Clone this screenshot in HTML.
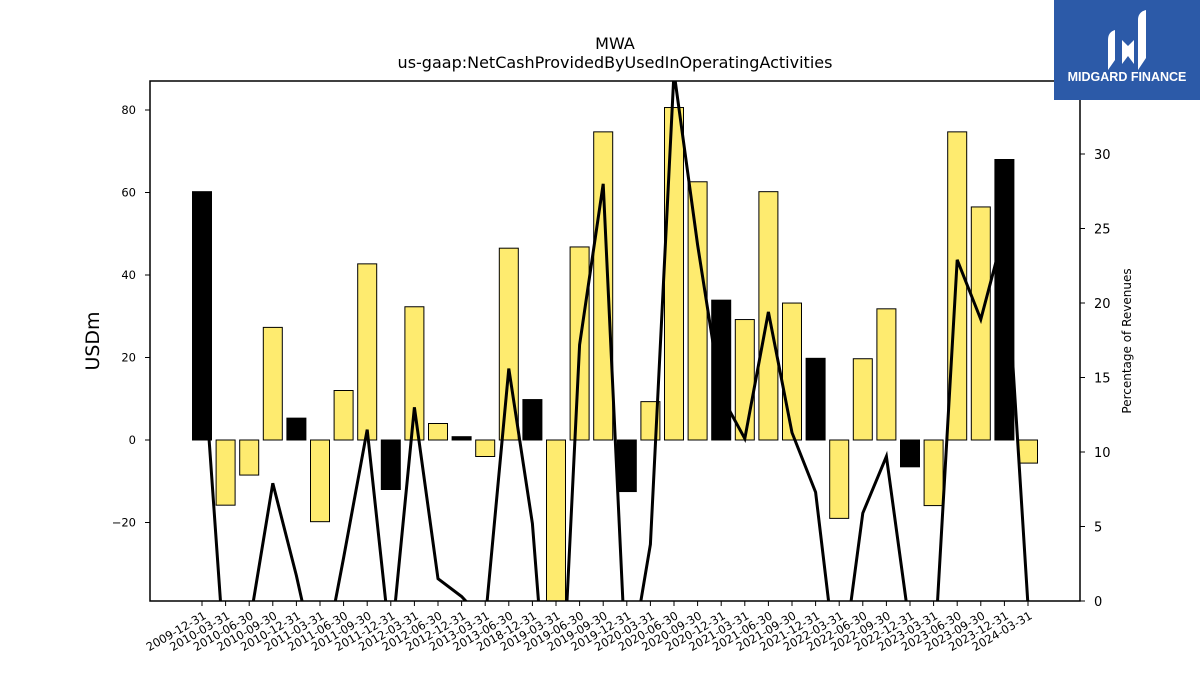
<!DOCTYPE html>
<html><head><meta charset="utf-8"><style>
html,body{margin:0;padding:0;background:#fff;overflow:hidden;width:1200px;height:675px;}
svg{display:block;font-family:"DejaVu Sans","Liberation Sans",sans-serif;}
</style></head><body>
<svg id="chart" width="1200" height="675" viewBox="0 0 1200 675">
<defs><clipPath id="plotclip"><rect x="150" y="81" width="930" height="520"/></clipPath></defs>
<text x="615" y="49" text-anchor="middle" font-size="16">MWA</text>
<text x="615" y="68" text-anchor="middle" font-size="16">us-gaap:NetCashProvidedByUsedInOperatingActivities</text>
<g id="bars" clip-path="url(#plotclip)"></g>
<g id="line" clip-path="url(#plotclip)"></g>
<rect x="150" y="81" width="930" height="520" fill="none" stroke="#000" stroke-width="1.5"/>
<g id="yleft"></g>
<g id="yright"></g>
<g id="xaxis"></g>
<text transform="translate(99,341) rotate(-90)" text-anchor="middle" font-size="19">USDm</text>
<text transform="translate(1131,341) rotate(-90)" text-anchor="middle" font-size="12">Percentage of Revenues</text>
<g>
<rect x="1054" y="0" width="146" height="100" fill="#2c5aa8"/>
<path d="M1108 40 q0-8 7-10 v30 l-7 10z M1122 40 l6 6 l6-6 v24 l-6-8 l-6 8z M1138 20 q0-8 8-10 v48 l-8 12z" fill="#fff"/>
<text x="1127" y="81" text-anchor="middle" font-size="12.5" font-weight="bold" fill="#fff" font-family="Liberation Sans, sans-serif">MIDGARD FINANCE</text>
</g>
</svg>
<script>
const categories=["2009-12-31","2010-03-31","2010-06-30","2010-09-30","2010-12-31","2011-03-31","2011-06-30","2011-09-30","2011-12-31","2012-03-31","2012-06-30","2012-12-31","2013-03-31","2013-06-30","2018-12-31","2019-03-31","2019-06-30","2019-09-30","2019-12-31","2020-03-31","2020-06-30","2020-09-30","2020-12-31","2021-03-31","2021-06-30","2021-09-30","2021-12-31","2022-03-31","2022-06-30","2022-09-30","2022-12-31","2023-03-31","2023-06-30","2023-09-30","2023-12-31","2024-03-31"];
const cashValues=[60.2,-15.8,-8.5,27.3,5.3,-19.8,12,42.7,-12,32.3,4,0.8,-4,46.5,9.8,-45,46.8,74.7,-12.5,9.3,80.6,62.6,33.9,29.2,60.2,33.2,19.8,-19,19.7,31.8,-6.5,-15.9,74.7,56.5,68,-5.6];
const isQ4=[1,0,0,0,1,0,0,0,1,0,0,1,0,0,1,0,0,0,1,0,0,0,1,0,0,0,1,0,0,0,1,0,0,0,1,0];
const pctValues=[17.6,-4.9,-1.7,7.9,1.7,-5.4,2.9,11.5,-3.2,13.0,1.5,0.3,-1.4,15.6,5.2,-15,17.2,28.0,-5.6,3.8,35.5,23.9,13.8,10.9,19.4,11.3,7.3,-6,5.9,9.7,-1.9,-4.6,22.9,18.9,24.9,-0.3];
const leftTicks=[-20,0,20,40,60,80];
const rightTicks=[0,5,10,15,20,25,30];
const NS="http://www.w3.org/2000/svg";
const X0=150,X1=1080,Y0=81,Y1=601;
const xPos=i=>202+i*(1028-202)/(categories.length-1);
const yL=v=>440-v*4.125;
const yR=v=>601-v*14.9;
function mk(tag,attrs,parent){const e=document.createElementNS(NS,tag);for(const k in attrs)e.setAttribute(k,attrs[k]);parent.appendChild(e);return e;}
const gb=document.getElementById('bars');
cashValues.forEach((v,i)=>{
 const y=Math.min(yL(v),yL(0)),h=Math.abs(yL(v)-yL(0));
 const r=mk('rect',{x:xPos(i)-9.5,y:y,width:19,height:h,fill:isQ4[i]?'#000':'#feeb6f',stroke:'#000','stroke-width':1},gb);
 
 
});
const gl=document.getElementById('line');
const pl=mk('polyline',{points:pctValues.map((v,i)=>xPos(i)+','+yR(v)).join(' '),fill:'none',stroke:'#000','stroke-width':3,'stroke-linejoin':'miter'},gl);


const gyl=document.getElementById('yleft');
leftTicks.forEach(t=>{
 const y=yL(t);
 const ln=mk('line',{x1:X0-5,x2:X0,y1:y,y2:y,stroke:'#000','stroke-width':1},gyl);
 
 
 const tx=mk('text',{x:X0-14,y:y+4,'text-anchor':'end','font-size':11.5},gyl);
 tx.textContent=t<0?'\u2212'+Math.abs(t):t;
 
 
});
const gyr=document.getElementById('yright');
rightTicks.forEach(t=>{
 const y=yR(t);
 const ln=mk('line',{x1:X1,x2:X1+5,y1:y,y2:y,stroke:'#000','stroke-width':1},gyr);
 
 
 const tx=mk('text',{x:X1+14,y:y+5,'font-size':13},gyr);
 tx.textContent=t;
 
 
});
const gx=document.getElementById('xaxis');
categories.forEach((c,i)=>{
 const x=xPos(i);
 const ln=mk('line',{x1:x,x2:x,y1:Y1,y2:Y1+5,stroke:'#000','stroke-width':1},gx);
 
 
 const tx=mk('text',{transform:'translate('+(x+5)+','+(Y1+17)+') rotate(-30)','text-anchor':'end','font-size':11.5},gx);
 tx.textContent=c;
 
 
});
</script>
</body></html>
